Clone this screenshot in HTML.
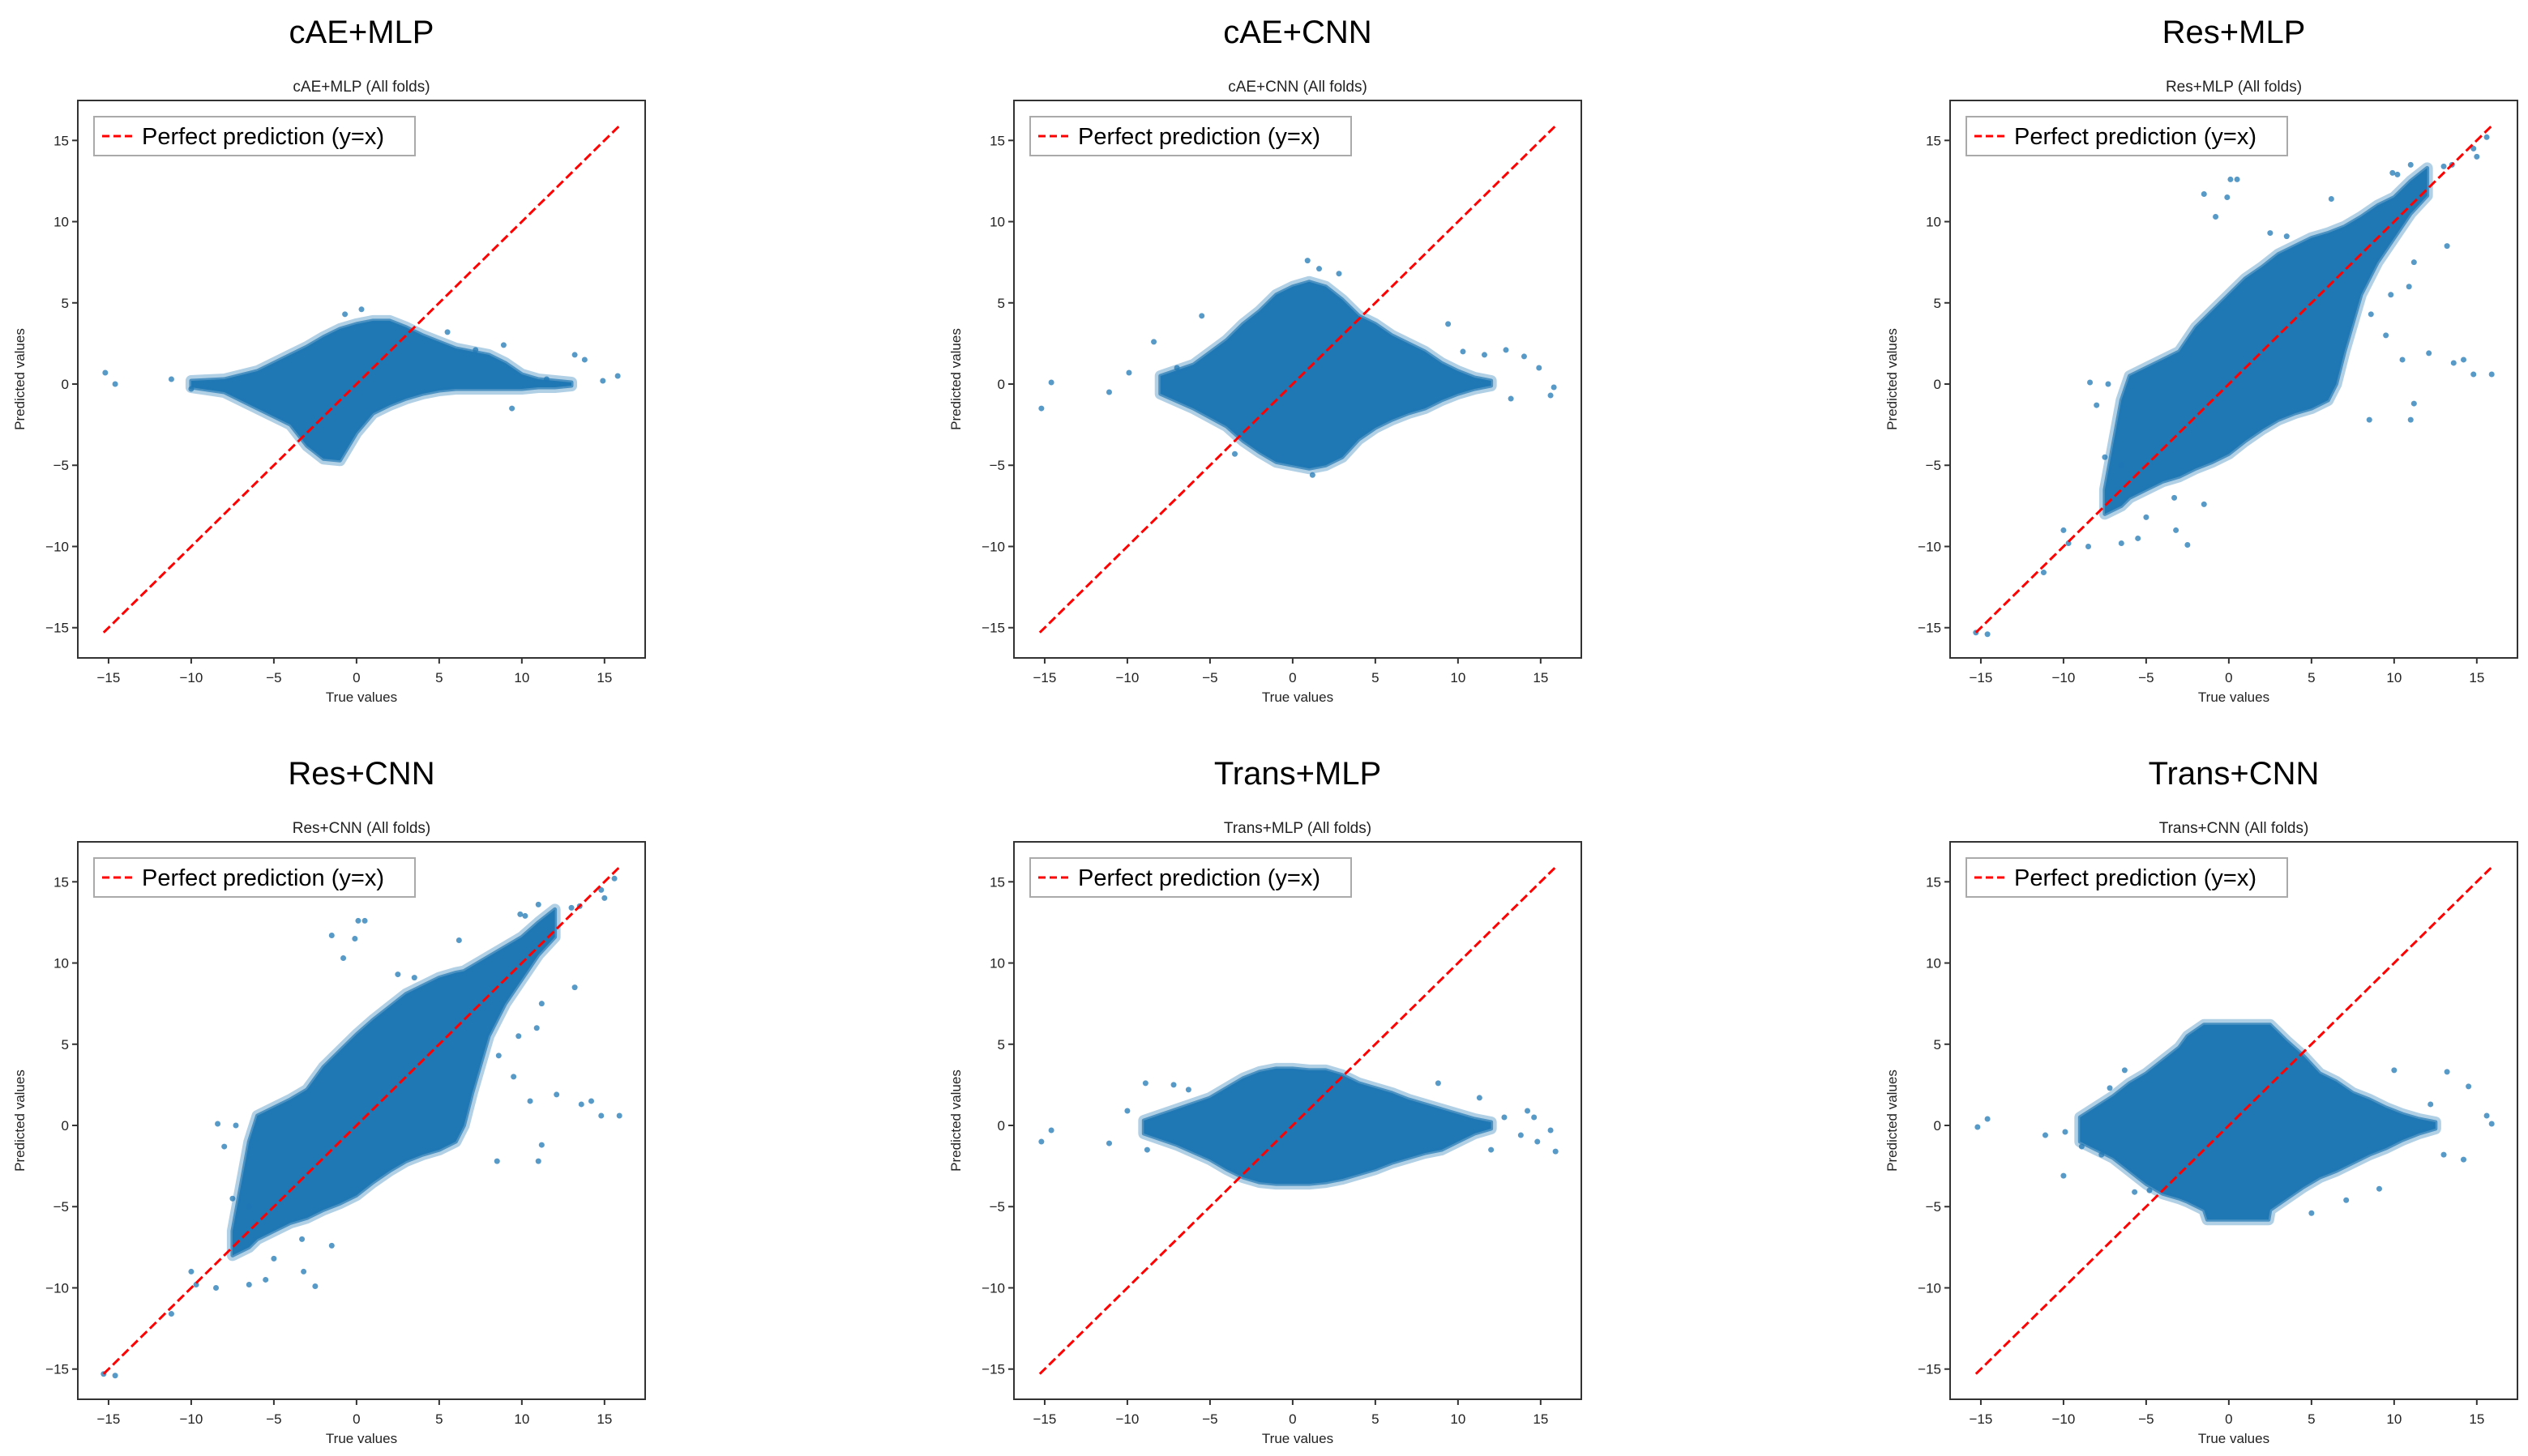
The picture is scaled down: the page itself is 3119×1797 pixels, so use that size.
<!DOCTYPE html>
<html><head><meta charset="utf-8"><style>
html,body{margin:0;padding:0;background:#fff;}
svg{display:block;font-family:"Liberation Sans","DejaVu Sans",sans-serif;}
</style></head><body>
<svg id="fig" width="3119" height="1797" viewBox="0 0 3119 1797" xmlns="http://www.w3.org/2000/svg"></svg>
<script>
const titles = ["cAE+MLP","cAE+CNN","Res+MLP","Res+CNN","Trans+MLP","Trans+CNN"];
const tickValues = [-15,-10,-5,0,5,10,15];
const tickLabels = ["\u221215","\u221210","\u22125","0","5","10","15"];
const lineStart = -15.3;
const lineEnd = 15.9;

const p1Xs = [-10,-8,-6,-4,-3,-2,-1,0,1,2,3,4,5,6,7,8,9,10,11,12,13];
const p1Upper = [0.2,0.3,0.8,1.8,2.3,2.9,3.4,3.7,3.9,3.9,3.5,3.0,2.6,2.2,2.0,1.8,1.3,0.6,0.3,0.2,0.1];
const p1Lower = [-0.2,-0.5,-1.5,-2.5,-3.8,-4.6,-4.7,-3.0,-1.8,-1.3,-0.9,-0.6,-0.4,-0.3,-0.3,-0.3,-0.3,-0.3,-0.2,-0.2,-0.1];
const p1OutX = [-15.2,-14.6,-11.2,-10,13.2,13.8,14.9,15.8,9.4,0.3,-0.7,5.5,8.9,7.2,11.5];
const p1OutY = [0.7,0,0.3,-0.3,1.8,1.5,0.2,0.5,-1.5,4.6,4.3,3.2,2.4,2.1,0.3];

const p2Xs = [-8,-6,-4,-3,-2,-1,0,1,2,3,4,5,6,7,8,9,10,11,12];
const p2Upper = [0.5,1.2,2.7,3.7,4.5,5.5,6.0,6.3,6.0,5.2,4.2,3.7,3.0,2.5,2.0,1.3,0.8,0.4,0.2];
const p2Lower = [-0.6,-1.5,-2.6,-3.5,-4.2,-4.8,-5.0,-5.2,-5.0,-4.5,-3.4,-2.7,-2.2,-1.8,-1.5,-1.0,-0.6,-0.3,-0.1];
const p2OutX = [-15.2,-14.6,-11.1,-9.9,-8.4,-7,-5.5,0.9,1.6,2.8,12.9,14,14.9,15.8,15.6,13.2,9.4,10.3,11.6,-3.5,1.2];
const p2OutY = [-1.5,0.1,-0.5,0.7,2.6,1,4.2,7.6,7.1,6.8,2.1,1.7,1.0,-0.2,-0.7,-0.9,3.7,2.0,1.8,-4.3,-5.6];

const p3Xs = [-7.5,-6.5,-6,-5,-4,-3,-2,-1,0,1,2,3,4,5,6,6.5,7,8,9,10,11,12];
const p3Upper = [-6.5,-1,0.5,1.0,1.5,2.0,3.5,4.5,5.5,6.5,7.2,8.0,8.5,9.0,9.3,9.5,9.7,10.3,11,11.5,12.5,13.3];
const p3Lower = [-8,-7.5,-7,-6.5,-6,-5.7,-5.2,-4.8,-4.3,-3.5,-2.8,-2.2,-1.8,-1.5,-1.0,0,2,5.5,7.5,9,10.5,11.6];
const p3OutX = [-15.3,-14.6,-11.2,-10,-9.7,-8.5,-6.5,-5.5,-2.5,-3.2,-0.8,0.1,0.5,-1.5,-0.1,2.5,3.5,6.2,9.9,10.2,11,13,13.5,14.8,15.6,15,13.2,11.2,14.2,13.6,14.8,15.9,12.1,11,11.2,8.5,-8.4,-7.3,-8,-6.5,-3.3,-1.5,-5,-7.5,9.5,10.5,10.9,9.8,8.6];
const p3OutY = [-15.3,-15.4,-11.6,-9,-9.8,-10,-9.8,-9.5,-9.9,-9,10.3,12.6,12.6,11.7,11.5,9.3,9.1,11.4,13.0,12.9,13.5,13.4,13.5,14.5,15.2,14,8.5,7.5,1.5,1.3,0.6,0.6,1.9,-2.2,-1.2,-2.2,0.1,0,-1.3,-5,-7,-7.4,-8.2,-4.5,3,1.5,6,5.5,4.3];

const p4Xs = [-7.5,-6.5,-6,-5,-4,-3,-2,-1,0,1,2,3,4,5,6,6.5,7,8,9,10,11,12];
const p4Upper = [-6.5,-1,0.6,1.1,1.6,2.2,3.6,4.6,5.6,6.5,7.3,8.1,8.6,9.1,9.4,9.5,9.8,10.4,11,11.6,12.5,13.3];
const p4Lower = [-8,-7.5,-7,-6.5,-6,-5.7,-5.2,-4.8,-4.3,-3.5,-2.8,-2.2,-1.8,-1.5,-1.0,0,2,5.5,7.5,9,10.5,11.6];
const p4OutX = [-15.3,-14.6,-11.2,-10,-9.7,-8.5,-6.5,-5.5,-2.5,-3.2,-0.8,0.1,0.5,-1.5,-0.1,2.5,3.5,6.2,9.9,10.2,11,13,13.5,14.8,15.6,15,13.2,11.2,14.2,13.6,14.8,15.9,12.1,11,11.2,8.5,-8.4,-7.3,-8,-6.5,-3.3,-1.5,-5,-7.5,9.5,10.5,10.9,9.8,8.6];
const p4OutY = [-15.3,-15.4,-11.6,-9,-9.8,-10,-9.8,-9.5,-9.9,-9,10.3,12.6,12.6,11.7,11.5,9.3,9.1,11.4,13.0,12.9,13.6,13.4,13.5,14.5,15.2,14,8.5,7.5,1.5,1.3,0.6,0.6,1.9,-2.2,-1.2,-2.2,0.1,0,-1.3,-5,-7,-7.4,-8.2,-4.5,3,1.5,6,5.5,4.3];

const p5Xs = [-9,-7,-5,-4,-3,-2,-1,0,1,2,3,4,5,6,7,8,9,10,11,12];
const p5Upper = [0.3,1.0,1.7,2.3,2.9,3.3,3.5,3.5,3.4,3.4,3.1,2.6,2.3,2.0,1.6,1.3,1.0,0.7,0.4,0.2];
const p5Lower = [-0.5,-1.2,-2.1,-2.7,-3.2,-3.5,-3.6,-3.6,-3.6,-3.5,-3.3,-3.0,-2.7,-2.3,-2.0,-1.7,-1.5,-1.0,-0.5,-0.2];
const p5OutX = [-15.2,-14.6,-11.1,-10,-8.9,-7.2,-8.8,-6.3,8.8,11.3,12.8,14.2,14.6,15.6,15.9,14.8,13.8,12];
const p5OutY = [-1,-0.3,-1.1,0.9,2.6,2.5,-1.5,2.2,2.6,1.7,0.5,0.9,0.5,-0.3,-1.6,-1.0,-0.6,-1.5];

const p6Xs = [-9,-7,-6,-5,-4,-3,-2.5,-1.5,-1.3,2.4,2.5,3.5,4.5,5.5,6.5,7.5,8.5,9.5,10.5,11.5,12.5];
const p6Upper = [0.5,1.8,2.6,3.2,4.0,4.8,5.5,6.2,6.2,6.2,6.2,5.2,4.3,3.2,2.7,2.0,1.6,1.1,0.7,0.4,0.2];
const p6Lower = [-1,-2.0,-2.8,-3.6,-4.2,-4.5,-4.7,-5.2,-5.8,-5.8,-5.2,-4.5,-3.8,-3.2,-2.8,-2.3,-1.8,-1.4,-0.9,-0.5,-0.2];
const p6OutX = [-15.2,-14.6,-11.1,-10,-9.9,-8.9,-7.7,-7.2,-6.3,-5.7,-4.8,5,7.1,9.1,10,13.2,14.5,15.6,15.9,14.2,13,12.2];
const p6OutY = [-0.1,0.4,-0.6,-3.1,-0.4,-1.3,-1.8,2.3,3.4,-4.1,-4,-5.4,-4.6,-3.9,3.4,3.3,2.4,0.6,0.1,-2.1,-1.8,1.3];

const panels = [
  [p1Xs,p1Upper,p1Lower,p1OutX,p1OutY],
  [p2Xs,p2Upper,p2Lower,p2OutX,p2OutY],
  [p3Xs,p3Upper,p3Lower,p3OutX,p3OutY],
  [p4Xs,p4Upper,p4Lower,p4OutX,p4OutY],
  [p5Xs,p5Upper,p5Lower,p5OutX,p5OutY],
  [p6Xs,p6Upper,p6Lower,p6OutX,p6OutY]
];

const NS = "http://www.w3.org/2000/svg";
const svg = document.getElementById('fig');
const XMIN=-16.86, XMAX=17.46, YMIN=-16.86, YMAX=17.46;
function mk(tag, attrs, parent, text){
  const e=document.createElementNS(NS,tag);
  for(const k in attrs) e.setAttribute(k,attrs[k]);
  if(text!==undefined) e.textContent=text;
  parent.appendChild(e); return e;
}
const BLUE="#1f77b4";

panels.forEach((p,i)=>{
  const col=i%3, row=Math.floor(i/3);
  const ox=col*1155, oy=row*915;
  const L=96+ox, R=796+ox, T=124+oy, B=812+oy;
  const sx=v=>L+(v-XMIN)*(R-L)/(XMAX-XMIN);
  const sy=v=>B-(v-YMIN)*(B-T)/(YMAX-YMIN);
  const g=mk('g',{},svg);
  
  

  const t=mk('text',{x:(L+R)/2,y:53+oy,'text-anchor':'middle','font-size':40,fill:'#000'},g,titles[i]);
  
  
  const st=mk('text',{x:(L+R)/2,y:113+oy,'text-anchor':'middle','font-size':19,fill:'#222'},g,titles[i]+" (All folds)");
  
  

  const [xs,up,lo,oxs,oys]=p;
  let pts=[];
  for(let k=0;k<xs.length;k++) pts.push(sx(xs[k])+','+sy(up[k]));
  for(let k=xs.length-1;k>=0;k--) pts.push(sx(xs[k])+','+sy(lo[k]));
  const halo=mk('polygon',{points:pts.join(' '),fill:'none',stroke:BLUE,'stroke-width':14,'stroke-linejoin':'round','stroke-opacity':0.35},g);
  
  
  const cloud=mk('polygon',{points:pts.join(' '),fill:BLUE,stroke:BLUE,'stroke-width':5,'stroke-linejoin':'round','stroke-opacity':0.7},g);
  
  
  for(let k=0;k<oxs.length;k++){
    const c=mk('circle',{cx:sx(oxs[k]),cy:sy(oys[k]),r:3.5,fill:BLUE,'fill-opacity':0.75},g);
    
    
  }
  const ln=mk('line',{x1:sx(lineStart),y1:sy(lineStart),x2:sx(lineEnd),y2:sy(lineEnd),stroke:'#ff0000','stroke-width':3,'stroke-dasharray':'11,5'},g);
  
  

  const fr=mk('rect',{x:L,y:T,width:R-L,height:B-T,fill:'none',stroke:'#333','stroke-width':2},g);
  
  

  tickValues.forEach((v,k)=>{
    const X=sx(v), Y=sy(v);
    mk('line',{x1:X,y1:B,x2:X,y2:B+7,stroke:'#333','stroke-width':2},g);
    const xl=mk('text',{x:X,y:B+30,'text-anchor':'middle','font-size':17,fill:'#222'},g,tickLabels[k]);
    
    
    mk('line',{x1:L-7,y1:Y,x2:L,y2:Y,stroke:'#333','stroke-width':2},g);
    const yl=mk('text',{x:L-11,y:Y+6,'text-anchor':'end','font-size':17,fill:'#222'},g,tickLabels[k]);
    
    
  });
  const xt=mk('text',{x:(L+R)/2,y:B+54,'text-anchor':'middle','font-size':17,fill:'#222'},g,"True values");
  
  
  const yt=mk('text',{x:0,y:0,'text-anchor':'middle','font-size':17,fill:'#222',transform:`translate(${ox+30},${(T+B)/2}) rotate(-90)`},g,"Predicted values");
  
  

  const lg=mk('g',{},g);
  
  
  mk('rect',{x:L+20,y:T+20,width:396,height:48,fill:'#fff',stroke:'#aaa','stroke-width':2},lg);
  mk('line',{x1:L+30,y1:T+44,x2:L+68,y2:T+44,stroke:'#ff0000','stroke-width':3,'stroke-dasharray':'9,5'},lg);
  const lt=mk('text',{x:L+79,y:T+54,'font-size':29,fill:'#000'},lg,"Perfect prediction (y=x)");
  
  
});
</script>
</body></html>
